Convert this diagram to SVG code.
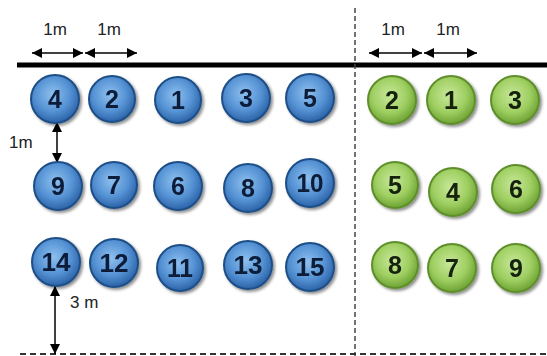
<svg xmlns="http://www.w3.org/2000/svg" width="547" height="356" viewBox="0 0 547 356">
<defs>
<radialGradient id="gb" cx="0.45" cy="0.4" r="0.6">
<stop offset="0" stop-color="#8ec0ee"/>
<stop offset="0.6" stop-color="#5592d4"/>
<stop offset="1" stop-color="#2c63a8"/>
</radialGradient>
<radialGradient id="gg" cx="0.45" cy="0.4" r="0.6">
<stop offset="0" stop-color="#c8e89a"/>
<stop offset="0.6" stop-color="#9fcf62"/>
<stop offset="1" stop-color="#6ea334"/>
</radialGradient>
<marker id="ah" viewBox="0 0 10 10" refX="10" refY="5" markerWidth="10" markerHeight="10" markerUnits="userSpaceOnUse" orient="auto-start-reverse">
<path d="M0,0 L10,5 L0,10 z" fill="#000"/>
</marker>
<filter id="sh" x="-20%" y="-20%" width="150%" height="150%">
<feGaussianBlur in="SourceAlpha" stdDeviation="1.5"/>
<feOffset dx="1.5" dy="2" result="b"/>
<feComponentTransfer><feFuncA type="linear" slope="0.45"/></feComponentTransfer>
<feMerge><feMergeNode/><feMergeNode in="SourceGraphic"/></feMerge>
</filter>
</defs>
<style>
.b circle{fill:url(#gb);stroke:#1f4f88;stroke-width:2}
.g circle{fill:url(#gg);stroke:#5e8f2c;stroke-width:2}
.n text{font-family:"Liberation Sans",Arial,sans-serif;font-weight:bold;font-size:25px;text-anchor:middle}
.b text{fill:#0c1c38}
.g text{fill:#13200a}
.lbl{font-family:"Liberation Sans",Arial,sans-serif;font-size:17px;fill:#222}
.dim{stroke:#000;stroke-width:1.5;fill:none;marker-start:url(#ah);marker-end:url(#ah)}
</style>
<rect width="547" height="356" fill="#fff"/>
<line x1="17" y1="65" x2="547" y2="65" stroke="#000" stroke-width="5"/>
<line x1="355" y1="8" x2="355" y2="356" stroke="#444" stroke-width="1.5" stroke-dasharray="5,3"/>
<line x1="20" y1="354" x2="547" y2="354" stroke="#333" stroke-width="2" stroke-dasharray="6,4"/>
<g id="connectors">
<line class="dim" x1="32" y1="53" x2="83" y2="53"/>
<line class="dim" x1="85" y1="53" x2="137" y2="53"/>
<line class="dim" x1="369" y1="53" x2="422" y2="53"/>
<line class="dim" x1="424" y1="53" x2="477" y2="53"/>
<line class="dim" x1="57" y1="122" x2="57" y2="163"/>
<line class="dim" x1="55" y1="286" x2="55" y2="354"/>
</g>
<g id="labels">
<text class="lbl" x="55" y="35" text-anchor="middle">1m</text>
<text class="lbl" x="109" y="35" text-anchor="middle">1m</text>
<text class="lbl" x="393" y="35" text-anchor="middle">1m</text>
<text class="lbl" x="448" y="35" text-anchor="middle">1m</text>
<text class="lbl" x="9" y="148">1m</text>
<text class="lbl" x="70" y="308">3 m</text>
</g>
<g class="n b" filter="url(#sh)">
<g id="b4"><circle cx="55" cy="99" r="24"/><text x="55" y="108">4</text></g>
<g id="b2"><circle cx="112" cy="99" r="23"/><text x="112" y="108">2</text></g>
<g id="b1"><circle cx="178" cy="100" r="23"/><text x="178" y="109">1</text></g>
<g id="b3"><circle cx="246" cy="98" r="24"/><text x="246" y="107">3</text></g>
<g id="b5"><circle cx="310" cy="98" r="24"/><text x="310" y="107">5</text></g>
<g id="b9"><circle cx="58" cy="186" r="24"/><text x="58" y="195">9</text></g>
<g id="b7"><circle cx="114" cy="185" r="23"/><text x="114" y="194">7</text></g>
<g id="b6"><circle cx="178" cy="186" r="24"/><text x="178" y="195">6</text></g>
<g id="b8"><circle cx="248" cy="188" r="24"/><text x="248" y="197">8</text></g>
<g id="b10"><circle cx="310" cy="183" r="24"/><text x="310" y="192" textLength="27" lengthAdjust="spacingAndGlyphs">10</text></g>
<g id="b14"><circle cx="56" cy="262" r="24"/><text x="56" y="271" textLength="29" lengthAdjust="spacingAndGlyphs">14</text></g>
<g id="b12"><circle cx="114" cy="263" r="24"/><text x="114" y="272" textLength="29" lengthAdjust="spacingAndGlyphs">12</text></g>
<g id="b11"><circle cx="180" cy="268" r="23"/><text x="180" y="277" textLength="26" lengthAdjust="spacingAndGlyphs">11</text></g>
<g id="b13"><circle cx="248" cy="265" r="24"/><text x="248" y="274" textLength="29" lengthAdjust="spacingAndGlyphs">13</text></g>
<g id="b15"><circle cx="310" cy="267" r="24"/><text x="310" y="276" textLength="29" lengthAdjust="spacingAndGlyphs">15</text></g>
</g>
<g class="n g" filter="url(#sh)">
<g id="g2"><circle cx="392" cy="100" r="24"/><text x="392" y="109">2</text></g>
<g id="g1"><circle cx="451" cy="100" r="24"/><text x="451" y="109">1</text></g>
<g id="g3"><circle cx="515" cy="100" r="24"/><text x="515" y="109">3</text></g>
<g id="g5"><circle cx="395" cy="185" r="23"/><text x="395" y="194">5</text></g>
<g id="g4"><circle cx="453" cy="192" r="24"/><text x="453" y="201">4</text></g>
<g id="g6"><circle cx="516" cy="189" r="24"/><text x="516" y="198">6</text></g>
<g id="g8"><circle cx="395" cy="265" r="23"/><text x="395" y="274">8</text></g>
<g id="g7"><circle cx="452" cy="268" r="24"/><text x="452" y="277">7</text></g>
<g id="g9"><circle cx="516" cy="268" r="24"/><text x="516" y="277">9</text></g>
</g>
</svg>
